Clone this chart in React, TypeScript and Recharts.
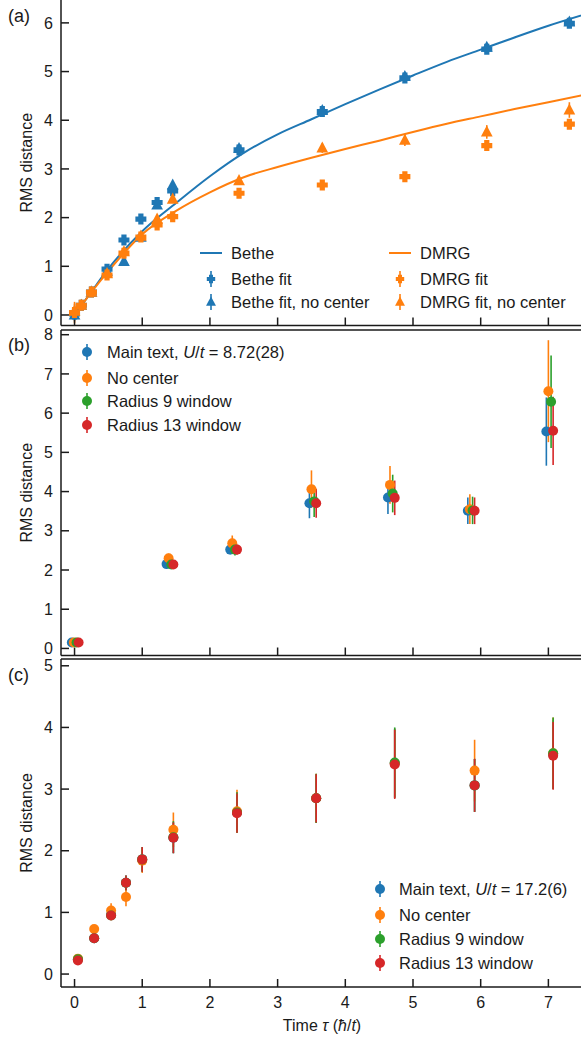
import React from "react";
import {
  ComposedChart,
  Line,
  Scatter,
  ErrorBar,
  XAxis,
  YAxis,
  ReferenceLine,
} from "recharts";

const FONT = '"Liberation Sans", Arial, Helvetica, sans-serif';
const INK = "#1a1a1a";
const BLUE = "#1f77b4";
const ORANGE = "#ff7f0e";
const GREEN = "#2ca02c";
const RED = "#d62728";

const xTicks = [0, 1, 2, 3, 4, 5, 6, 7];

// ---- panel (a) ----
const curveT = [0, 0.25, 0.5, 1, 1.5, 2, 2.5, 3, 3.5, 4, 4.5, 5, 5.5, 6, 6.5, 7, 7.6];
const betheCurve = [0, 0.48, 0.95, 1.72, 2.3, 2.85, 3.33, 3.71, 4.02, 4.33, 4.63, 4.92, 5.2, 5.45, 5.7, 5.94, 6.2];
const dmrgCurve = [0, 0.47, 0.9, 1.66, 2.14, 2.52, 2.83, 3.04, 3.23, 3.41, 3.58, 3.76, 3.93, 4.08, 4.23, 4.37, 4.54];

const fitT = [0, 0.1, 0.25, 0.48, 0.73, 0.98, 1.22, 1.45, 2.43, 3.66, 4.88, 6.09, 7.31];
const betheFit = [0.02, 0.2, 0.47, 0.94, 1.54, 1.97, 2.31, 2.55, 3.39, 4.18, 4.87, 5.46, 5.99];
const betheFitErr = [0.15, 0.05, 0.04, 0.05, 0.05, 0.05, 0.06, 0.06, 0.07, 0.06, 0.06, 0.06, 0.06];
const betheNoC = [0.0, 0.2, 0.47, 0.9, 1.1, 1.6, 2.26, 2.67, 3.42, 4.2, 4.9, 5.5, 6.02];
const betheNoCErr = [0.1, 0.05, 0.04, 0.05, 0.06, 0.06, 0.07, 0.08, 0.08, 0.07, 0.07, 0.07, 0.07];
const dmrgFit = [0.05, 0.2, 0.47, 0.82, 1.27, 1.6, 1.85, 2.02, 2.5, 2.67, 2.84, 3.48, 3.92];
const dmrgFitErr = [0.22, 0.05, 0.04, 0.05, 0.05, 0.05, 0.06, 0.06, 0.06, 0.06, 0.06, 0.08, 0.1];
const dmrgNoC = [0.08, 0.2, 0.47, 0.85, 1.3, 1.62, 1.97, 2.38, 2.76, 3.43, 3.59, 3.76, 4.21];
const dmrgNoCErr = [0.15, 0.05, 0.04, 0.05, 0.05, 0.05, 0.06, 0.07, 0.08, 0.1, 0.12, 0.14, 0.16];

// ---- panel (b) ----
const bBlueT = [-0.04, 1.36, 2.3, 3.47, 4.63, 5.81, 6.97];
const bOrangeT = [-0.01, 1.39, 2.33, 3.5, 4.66, 5.84, 7.0];
const bGreenT = [0.03, 1.43, 2.37, 3.54, 4.7, 5.88, 7.04];
const bRedT = [0.06, 1.46, 2.4, 3.57, 4.73, 5.91, 7.07];
const bBlue = [0.15, 2.15, 2.52, 3.7, 3.85, 3.51, 5.53];
const bBlueErr = [0.03, 0.08, 0.12, 0.38, 0.42, 0.34, 0.87];
const bOrange = [0.15, 2.3, 2.68, 4.06, 4.17, 3.55, 6.56];
const bOrangeErr = [0.03, 0.12, 0.2, 0.48, 0.48, 0.38, 1.3];
const bGreen = [0.15, 2.14, 2.52, 3.75, 3.95, 3.52, 6.29];
const bGreenErr = [0.03, 0.1, 0.15, 0.4, 0.48, 0.35, 1.18];
const bRed = [0.15, 2.14, 2.52, 3.7, 3.84, 3.51, 5.55];
const bRedErr = [0.03, 0.1, 0.13, 0.37, 0.44, 0.34, 0.87];

// ---- panel (c) ----
const cT = [0.05, 0.29, 0.54, 0.76, 1.0, 1.46, 2.4, 3.57, 4.73, 5.91, 7.07];
const cBlue = [0.24, 0.58, 0.96, 1.48, 1.86, 2.21, 2.62, 2.85, 3.42, 3.06, 3.56];
const cBlueErr = [0.05, 0.05, 0.07, 0.12, 0.2, 0.25, 0.33, 0.39, 0.56, 0.43, 0.56];
const cOrange = [0.25, 0.73, 1.03, 1.25, 1.84, 2.34, 2.64, 2.85, 3.42, 3.3, 3.58];
const cOrangeErr = [0.06, 0.06, 0.12, 0.15, 0.2, 0.28, 0.35, 0.4, 0.56, 0.5, 0.58];
const cGreen = [0.24, 0.58, 0.95, 1.48, 1.86, 2.22, 2.62, 2.85, 3.43, 3.06, 3.58];
const cGreenErr = [0.05, 0.05, 0.07, 0.12, 0.2, 0.26, 0.33, 0.4, 0.57, 0.43, 0.58];
const cRed = [0.22, 0.58, 0.95, 1.48, 1.86, 2.21, 2.61, 2.85, 3.4, 3.06, 3.54];
const cRedErr = [0.05, 0.04, 0.06, 0.12, 0.2, 0.25, 0.32, 0.39, 0.56, 0.43, 0.55];

const pts = (t: number[], v: number[], e?: number[]) =>
  t.map((x, i) => ({ t: x, v: v[i], e: e ? e[i] : 0 }));

// marker shapes
const plusPath = (cx: number, cy: number, r: number, w: number) =>
  `M${cx - w},${cy - r}L${cx + w},${cy - r}L${cx + w},${cy - w}L${cx + r},${cy - w}L${cx + r},${cy + w}L${cx + w},${cy + w}L${cx + w},${cy + r}L${cx - w},${cy + r}L${cx - w},${cy + w}L${cx - r},${cy + w}L${cx - r},${cy - w}L${cx - w},${cy - w}Z`;
const triPath = (cx: number, cy: number, s: number) =>
  `M${cx},${cy - s}L${cx + s * 0.9},${cy + s * 0.7}L${cx - s * 0.9},${cy + s * 0.7}Z`;

const dotShape = (color: string) => (p: any) => <circle cx={p.cx} cy={p.cy} r={5} fill={color} />;
const plusShape = (color: string) => (p: any) => <path d={plusPath(p.cx, p.cy, 5.5, 2.6)} fill={color} />;
const triShape = (color: string) => (p: any) => <path d={triPath(p.cx, p.cy, 6.5)} fill={color} />;

const PAD = 5;
const CHART_W = 589;

type PanelProps = {
  top: number;
  plotH: number;
  domain: [number, number];
  ticks: number[];
  labels: boolean;
  frameTop: boolean;
  children: React.ReactNode;
};

function Panel({ top, plotH, domain, ticks, labels, frameTop, children }: PanelProps) {
  const xH = labels ? 40 : 1;
  const mb = labels ? 0 : PAD;
  const height = PAD + plotH + xH + mb;
  const axisStyle = { stroke: INK, strokeWidth: 1.5 };
  return (
    <div style={{ position: "absolute", left: 0, top: top - PAD }}>
      <ComposedChart width={CHART_W} height={height} margin={{ top: PAD, right: 0, bottom: mb, left: 0 }}>
        <XAxis
          type="number"
          dataKey="t"
          domain={[-0.2, 7.6]}
          allowDataOverflow
          ticks={xTicks}
          height={xH}
          tickSize={-8}
          tickMargin={18}
          axisLine={axisStyle}
          tickLine={axisStyle}
          tick={{ fill: INK, fontSize: 16, fontFamily: FONT }}
          tickFormatter={(v: number) => (labels ? String(v) : "")}
        />
        <YAxis
          type="number"
          dataKey="v"
          domain={domain}
          allowDataOverflow
          ticks={ticks}
          width={61}
          tickSize={-8}
          tickMargin={16}
          axisLine={axisStyle}
          tickLine={axisStyle}
          tick={{ fill: INK, fontSize: 16, fontFamily: FONT }}
          label={{
            value: "RMS distance",
            angle: -90,
            position: "insideLeft",
            offset: 26,
            style: { textAnchor: "middle", fontSize: 16, fill: INK, fontFamily: FONT },
          }}
        />
        {frameTop && <ReferenceLine y={domain[1]} stroke={INK} strokeWidth={1.5} />}
        {children}
      </ComposedChart>
    </div>
  );
}

function errScatter(name: string, data: any[], color: string, shape: any) {
  return (
    <Scatter key={name} name={name} data={data} fill={color} shape={shape} isAnimationActive={false}>
      <ErrorBar dataKey="e" direction="y" width={0} stroke={color} strokeWidth={1.6} />
    </Scatter>
  );
}

const legendText = { fontSize: 16.5, fontFamily: FONT, fill: INK } as const;

function LegendMark({ x, y, color, kind }: { x: number; y: number; color: string; kind: string }) {
  if (kind === "line") return <line x1={x - 11} x2={x + 11} y1={y} y2={y} stroke={color} strokeWidth={2} />;
  const bar = <line x1={x} x2={x} y1={y - 8} y2={y + 8} stroke={color} strokeWidth={1.6} />;
  if (kind === "plus") return <g>{bar}<path d={plusPath(x, y, 4.2, 2)} fill={color} /></g>;
  if (kind === "tri") return <g>{bar}<path d={triPath(x, y, 5.5)} fill={color} /></g>;
  return <g>{bar}<circle cx={x} cy={y} r={5} fill={color} /></g>;
}

function Row({ x, tx, y, color, kind, children }: { x: number; tx: number; y: number; color: string; kind: string; children: React.ReactNode }) {
  return (
    <g>
      <LegendMark x={x} y={y} color={color} kind={kind} />
      <text x={tx} y={y + 6} {...legendText}>{children}</text>
    </g>
  );
}

export default function App() {
  return (
    <div style={{ position: "absolute", left: 0, top: 0, width: 581, height: 1040, overflow: "hidden", background: "#fff" }}>
      {/* (a) */}
      <Panel top={0} plotH={325.5} domain={[-0.216, 6.47]} ticks={[0, 1, 2, 3, 4, 5, 6]} labels={false} frameTop={false}>
        <Line data={pts(curveT, betheCurve)} dataKey="v" type="monotone" stroke={BLUE} strokeWidth={2} dot={false} activeDot={false} isAnimationActive={false} />
        <Line data={pts(curveT, dmrgCurve)} dataKey="v" type="monotone" stroke={ORANGE} strokeWidth={2} dot={false} activeDot={false} isAnimationActive={false} />
        {errScatter("Bethe fit", pts(fitT, betheFit, betheFitErr), BLUE, plusShape(BLUE))}
        {errScatter("Bethe fit, no center", pts(fitT, betheNoC, betheNoCErr), BLUE, triShape(BLUE))}
        {errScatter("DMRG fit", pts(fitT, dmrgFit, dmrgFitErr), ORANGE, plusShape(ORANGE))}
        {errScatter("DMRG fit, no center", pts(fitT, dmrgNoC, dmrgNoCErr), ORANGE, triShape(ORANGE))}
      </Panel>

      {/* (b) */}
      <Panel top={329.5} plotH={325.5} domain={[-0.18, 8.12]} ticks={[0, 1, 2, 3, 4, 5, 6, 7, 8]} labels={false} frameTop>
        {errScatter("Main text", pts(bBlueT, bBlue, bBlueErr), BLUE, dotShape(BLUE))}
        {errScatter("No center", pts(bOrangeT, bOrange, bOrangeErr), ORANGE, dotShape(ORANGE))}
        {errScatter("Radius 9 window", pts(bGreenT, bGreen, bGreenErr), GREEN, dotShape(GREEN))}
        {errScatter("Radius 13 window", pts(bRedT, bRed, bRedErr), RED, dotShape(RED))}
      </Panel>

      {/* (c) */}
      <Panel top={659} plotH={328} domain={[-0.21, 5.11]} ticks={[0, 1, 2, 3, 4, 5]} labels frameTop>
        {errScatter("Main text", pts(cT, cBlue, cBlueErr), BLUE, dotShape(BLUE))}
        {errScatter("No center", pts(cT, cOrange, cOrangeErr), ORANGE, dotShape(ORANGE))}
        {errScatter("Radius 9 window", pts(cT, cGreen, cGreenErr), GREEN, dotShape(GREEN))}
        {errScatter("Radius 13 window", pts(cT, cRed, cRedErr), RED, dotShape(RED))}
      </Panel>

      {/* labels and legends */}
      <svg width={581} height={1040} style={{ position: "absolute", left: 0, top: 0, pointerEvents: "none" }}>
        <text x={8} y={22} fontSize={18} fontFamily={FONT} fill={INK}>(a)</text>
        <text x={8} y={351} fontSize={18} fontFamily={FONT} fill={INK}>(b)</text>
        <text x={8} y={681} fontSize={18} fontFamily={FONT} fill={INK}>(c)</text>

        <Row x={211} tx={231} y={253} color={BLUE} kind="line">Bethe</Row>
        <Row x={211} tx={231} y={279} color={BLUE} kind="plus">Bethe fit</Row>
        <Row x={211} tx={231} y={302} color={BLUE} kind="tri">Bethe fit, no center</Row>
        <Row x={400} tx={420} y={253} color={ORANGE} kind="line">DMRG</Row>
        <Row x={400} tx={420} y={279} color={ORANGE} kind="plus">DMRG fit</Row>
        <Row x={400} tx={420} y={302} color={ORANGE} kind="tri">DMRG fit, no center</Row>

        <Row x={87} tx={107} y={352} color={BLUE} kind="dot">
          Main text, <tspan fontStyle="italic">U</tspan>/<tspan fontStyle="italic">t</tspan> = 8.72(28)
        </Row>
        <Row x={87} tx={107} y={378} color={ORANGE} kind="dot">No center</Row>
        <Row x={87} tx={107} y={401} color={GREEN} kind="dot">Radius 9 window</Row>
        <Row x={87} tx={107} y={425} color={RED} kind="dot">Radius 13 window</Row>

        <Row x={380} tx={399} y={889} color={BLUE} kind="dot">
          Main text, <tspan fontStyle="italic">U</tspan>/<tspan fontStyle="italic">t</tspan> = 17.2(6)
        </Row>
        <Row x={380} tx={399} y={915} color={ORANGE} kind="dot">No center</Row>
        <Row x={380} tx={399} y={939} color={GREEN} kind="dot">Radius 9 window</Row>
        <Row x={380} tx={399} y={963} color={RED} kind="dot">Radius 13 window</Row>

        <text x={322} y={1031} textAnchor="middle" fontSize={16} fontFamily={FONT} fill={INK}>
          Time <tspan fontStyle="italic">τ</tspan> (<tspan fontStyle="italic">ħ</tspan>/<tspan fontStyle="italic">t</tspan>)
        </text>
      </svg>
    </div>
  );
}
